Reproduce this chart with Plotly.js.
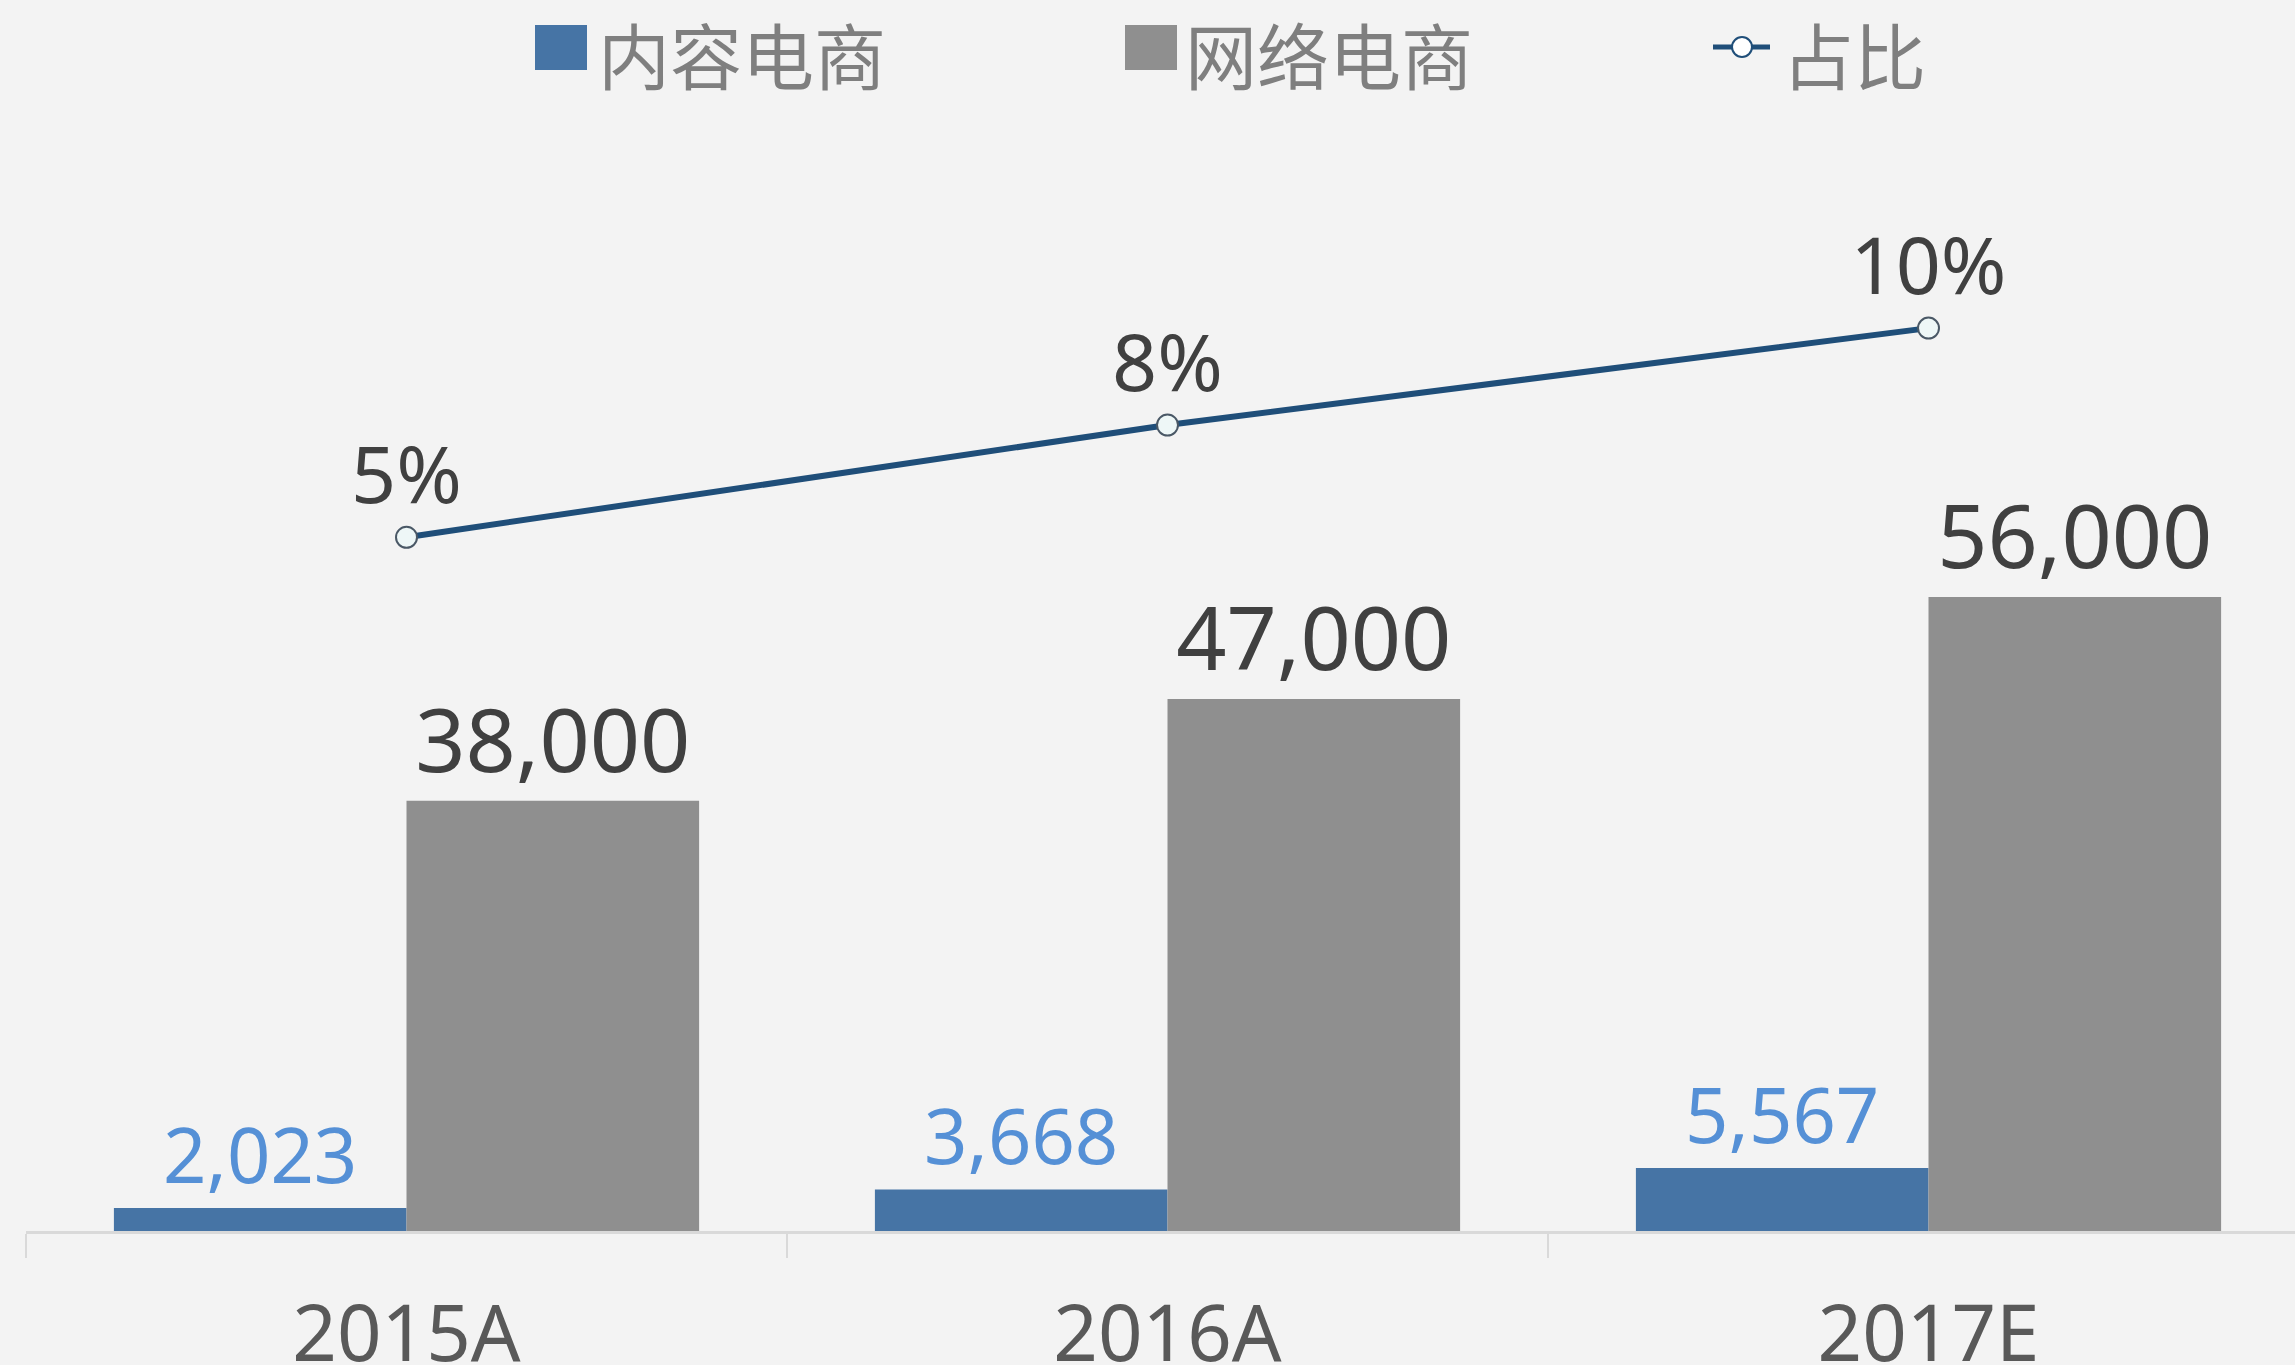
<!DOCTYPE html>
<html>
<head>
<meta charset="utf-8">
<script src="https://cdn.plot.ly/plotly-3.0.1.min.js"></script>
<style>
  html, body { margin: 0; padding: 0; background: #f3f3f3; overflow: hidden; }
  #chart { width: 2295px; height: 1365px; }
</style>
</head>
<body>
<div id="chart"></div>
<script>
// ---- data ----
const years = ['2015A', '2016A', '2017E'];
const contentEcom = [2023, 3668, 5567];      // 内容电商
const onlineEcom = [38000, 47000, 56000];    // 网络电商
const shareRatio = [0.0532, 0.0780, 0.0994]; // 占比
const seriesNames = ['内容电商', '网络电商', '占比'];

// ---- style ----
const BLUE = '#4674a5';
const GRAY = '#8f8f8f';
const LINE = '#1f4e79';
const BG = '#f3f3f3';
const NUMFONT = 'Noto Sans, Open Sans, sans-serif';
const CJKFONT = 'Noto Sans CJK SC, Noto Sans, sans-serif';

const traces = [
  {
    type: 'bar', name: seriesNames[0], x: years, y: contentEcom,
    marker: { color: BLUE },
    texttemplate: '%{y:,.0f}', textposition: 'outside', cliponaxis: false,
    textfont: { family: NUMFONT, size: 76, color: '#5590d6' },
    hoverinfo: 'x+y'
  },
  {
    type: 'bar', name: seriesNames[1], x: years, y: onlineEcom,
    marker: { color: GRAY },
    texttemplate: '%{y:,.0f}', textposition: 'outside', cliponaxis: false,
    textfont: { family: NUMFONT, size: 88, color: '#404040' },
    hoverinfo: 'x+y'
  },
  {
    type: 'scatter', mode: 'lines+markers+text', name: seriesNames[2],
    x: years, y: shareRatio, yaxis: 'y2',
    line: { color: LINE, width: 6 },
    marker: { size: 21, color: '#eef7f7', line: { color: '#4a5866', width: 2 } },
    texttemplate: '%{y:.0%}', textposition: 'top center', cliponaxis: false,
    textfont: { family: NUMFONT, size: 79, color: '#404040' },
    hoverinfo: 'x+y'
  }
];

// legend built from pixel positions converted to paper coords
const L = 26, T = 99, W = 2269, H = 1132;
const xp = X => (X - L) / W;
const yp = Y => (T + H - Y) / H;

const legendFont = { family: CJKFONT, size: 72, color: '#7f7f7f' };
const layout = {
  width: 2295, height: 1365, autosize: false,
  margin: { l: L, r: 0, t: T, b: 134, pad: 0 },
  paper_bgcolor: BG, plot_bgcolor: BG,
  showlegend: false,
  barmode: 'group', bargap: 0.231, bargroupgap: 0,
  xaxis: {
    type: 'category', range: [-0.5, 2.4816],
    tickson: 'boundaries', ticks: 'outside', ticklen: 24, tickwidth: 2, tickcolor: '#d9d9d9',
    showline: true, linecolor: '#d9d9d9', linewidth: 3,
    showgrid: false, zeroline: false,
    tickfont: { family: NUMFONT, size: 78, color: '#595959' },
    ticklabelstandoff: 33,
    fixedrange: true
  },
  yaxis: { range: [0, 100000], visible: false, showgrid: false, zeroline: false, fixedrange: true },
  yaxis2: { overlaying: 'y', side: 'right', range: [-0.10, 0.15], visible: false, showgrid: false, zeroline: false, fixedrange: true },
  shapes: [
    { type: 'rect', xref: 'paper', yref: 'paper', x0: xp(535), x1: xp(587), y0: yp(70), y1: yp(25),
      fillcolor: BLUE, line: { width: 0 } },
    { type: 'rect', xref: 'paper', yref: 'paper', x0: xp(1125), x1: xp(1177), y0: yp(70), y1: yp(25),
      fillcolor: GRAY, line: { width: 0 } },
    { type: 'line', xref: 'paper', yref: 'paper', x0: xp(1713), x1: xp(1770), y0: yp(47), y1: yp(47),
      line: { color: LINE, width: 5 } },
    { type: 'circle', xref: 'paper', yref: 'paper', x0: xp(1732), x1: xp(1752), y0: yp(57), y1: yp(37),
      fillcolor: '#ffffff', line: { color: LINE, width: 2 } }
  ],
  annotations: [
    { xref: 'paper', yref: 'paper', x: xp(596), y: yp(53), xanchor: 'left', yanchor: 'middle',
      text: seriesNames[0], showarrow: false, font: legendFont },
    { xref: 'paper', yref: 'paper', x: xp(1183), y: yp(53), xanchor: 'left', yanchor: 'middle',
      text: seriesNames[1], showarrow: false, font: legendFont },
    { xref: 'paper', yref: 'paper', x: xp(1780), y: yp(53), xanchor: 'left', yanchor: 'middle',
      text: seriesNames[2], showarrow: false, font: legendFont }
  ]
};

Plotly.newPlot('chart', traces, layout, { displayModeBar: false, staticPlot: true });
</script>
</body>
</html>
